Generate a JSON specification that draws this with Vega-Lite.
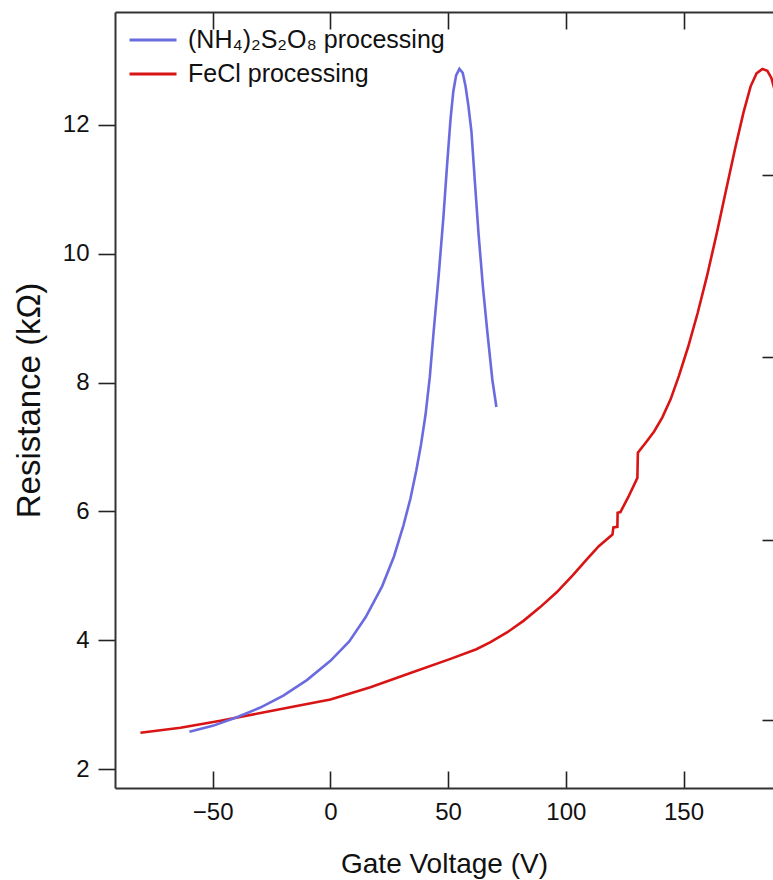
{
  "$schema": "https://vega.github.io/schema/vega-lite/v6.json",
  "width": 658,
  "height": 776,
  "autosize": {"type": "none"},
  "padding": {"left": 115, "top": 12, "right": 0, "bottom": 92},
  "background": "white",
  "config": {
    "view": {"stroke": null},
    "font": "Liberation Sans",
    "axis": {
      "grid": false,
      "domainColor": "#333333",
      "domainWidth": 2,
      "tickColor": "#222222",
      "tickWidth": 1.6,
      "labelColor": "#111111",
      "labelFont": "Liberation Sans",
      "labelFontSize": 24,
      "titleFont": "Liberation Sans",
      "titleFontSize": 28,
      "titleFontWeight": "normal",
      "titleColor": "#111111"
    }
  },
  "data": {
    "values": [
      {"series": "FeCl processing", "V": -80.7, "R": 2.563},
      {"series": "FeCl processing", "V": -63.7, "R": 2.64},
      {"series": "FeCl processing", "V": -46.7, "R": 2.75},
      {"series": "FeCl processing", "V": -29.7, "R": 2.87},
      {"series": "FeCl processing", "V": -12.7, "R": 2.99},
      {"series": "FeCl processing", "V": 0, "R": 3.08},
      {"series": "FeCl processing", "V": 17, "R": 3.27},
      {"series": "FeCl processing", "V": 34, "R": 3.49},
      {"series": "FeCl processing", "V": 51, "R": 3.71},
      {"series": "FeCl processing", "V": 62, "R": 3.86},
      {"series": "FeCl processing", "V": 68, "R": 3.97},
      {"series": "FeCl processing", "V": 75, "R": 4.12},
      {"series": "FeCl processing", "V": 82, "R": 4.3},
      {"series": "FeCl processing", "V": 89, "R": 4.51},
      {"series": "FeCl processing", "V": 96, "R": 4.74},
      {"series": "FeCl processing", "V": 103, "R": 5.01},
      {"series": "FeCl processing", "V": 109, "R": 5.26},
      {"series": "FeCl processing", "V": 114, "R": 5.46},
      {"series": "FeCl processing", "V": 119.8, "R": 5.64},
      {"series": "FeCl processing", "V": 120.2, "R": 5.75},
      {"series": "FeCl processing", "V": 121.9, "R": 5.76},
      {"series": "FeCl processing", "V": 122.0, "R": 5.98},
      {"series": "FeCl processing", "V": 123.2, "R": 5.99},
      {"series": "FeCl processing", "V": 126.5, "R": 6.22},
      {"series": "FeCl processing", "V": 130.4, "R": 6.52},
      {"series": "FeCl processing", "V": 130.6, "R": 6.91},
      {"series": "FeCl processing", "V": 134, "R": 7.07},
      {"series": "FeCl processing", "V": 137.5, "R": 7.24},
      {"series": "FeCl processing", "V": 141, "R": 7.46},
      {"series": "FeCl processing", "V": 144.5, "R": 7.74},
      {"series": "FeCl processing", "V": 148, "R": 8.1},
      {"series": "FeCl processing", "V": 152, "R": 8.56},
      {"series": "FeCl processing", "V": 156, "R": 9.08},
      {"series": "FeCl processing", "V": 160, "R": 9.66},
      {"series": "FeCl processing", "V": 164, "R": 10.3},
      {"series": "FeCl processing", "V": 168, "R": 10.98},
      {"series": "FeCl processing", "V": 172, "R": 11.65},
      {"series": "FeCl processing", "V": 175.5, "R": 12.2},
      {"series": "FeCl processing", "V": 178.5, "R": 12.6},
      {"series": "FeCl processing", "V": 181, "R": 12.8},
      {"series": "FeCl processing", "V": 183.5, "R": 12.87},
      {"series": "FeCl processing", "V": 185.6, "R": 12.84},
      {"series": "FeCl processing", "V": 187.3, "R": 12.73},
      {"series": "FeCl processing", "V": 189.0, "R": 12.5},
      {"series": "(NH₄)₂S₂O₈ processing", "V": -59.9, "R": 2.58},
      {"series": "(NH₄)₂S₂O₈ processing", "V": -50, "R": 2.67},
      {"series": "(NH₄)₂S₂O₈ processing", "V": -40, "R": 2.8},
      {"series": "(NH₄)₂S₂O₈ processing", "V": -30, "R": 2.95},
      {"series": "(NH₄)₂S₂O₈ processing", "V": -20, "R": 3.14},
      {"series": "(NH₄)₂S₂O₈ processing", "V": -10, "R": 3.38},
      {"series": "(NH₄)₂S₂O₈ processing", "V": 0, "R": 3.68},
      {"series": "(NH₄)₂S₂O₈ processing", "V": 8, "R": 3.98},
      {"series": "(NH₄)₂S₂O₈ processing", "V": 15, "R": 4.36},
      {"series": "(NH₄)₂S₂O₈ processing", "V": 22, "R": 4.84},
      {"series": "(NH₄)₂S₂O₈ processing", "V": 27, "R": 5.3},
      {"series": "(NH₄)₂S₂O₈ processing", "V": 31, "R": 5.78},
      {"series": "(NH₄)₂S₂O₈ processing", "V": 34, "R": 6.2},
      {"series": "(NH₄)₂S₂O₈ processing", "V": 36.5, "R": 6.64},
      {"series": "(NH₄)₂S₂O₈ processing", "V": 38.5, "R": 7.04},
      {"series": "(NH₄)₂S₂O₈ processing", "V": 40.4, "R": 7.5},
      {"series": "(NH₄)₂S₂O₈ processing", "V": 42.2, "R": 8.08},
      {"series": "(NH₄)₂S₂O₈ processing", "V": 43.8, "R": 8.77},
      {"series": "(NH₄)₂S₂O₈ processing", "V": 46.0, "R": 9.67},
      {"series": "(NH₄)₂S₂O₈ processing", "V": 48.0, "R": 10.57},
      {"series": "(NH₄)₂S₂O₈ processing", "V": 49.6, "R": 11.4},
      {"series": "(NH₄)₂S₂O₈ processing", "V": 51.0, "R": 12.08},
      {"series": "(NH₄)₂S₂O₈ processing", "V": 52.2, "R": 12.52},
      {"series": "(NH₄)₂S₂O₈ processing", "V": 53.4, "R": 12.77},
      {"series": "(NH₄)₂S₂O₈ processing", "V": 54.8, "R": 12.87},
      {"series": "(NH₄)₂S₂O₈ processing", "V": 56.2, "R": 12.81},
      {"series": "(NH₄)₂S₂O₈ processing", "V": 57.4, "R": 12.6},
      {"series": "(NH₄)₂S₂O₈ processing", "V": 58.6, "R": 12.3},
      {"series": "(NH₄)₂S₂O₈ processing", "V": 59.9, "R": 11.9},
      {"series": "(NH₄)₂S₂O₈ processing", "V": 61.4, "R": 11.1},
      {"series": "(NH₄)₂S₂O₈ processing", "V": 62.9, "R": 10.32},
      {"series": "(NH₄)₂S₂O₈ processing", "V": 64.8, "R": 9.48},
      {"series": "(NH₄)₂S₂O₈ processing", "V": 66.7, "R": 8.77},
      {"series": "(NH₄)₂S₂O₈ processing", "V": 68.8, "R": 8.04},
      {"series": "(NH₄)₂S₂O₈ processing", "V": 70.5, "R": 7.62}
    ]
  },
  "layer": [
    {
      "mark": {"type": "line", "strokeWidth": 2.6, "clip": true},
      "encoding": {
        "x": {
          "field": "V", "type": "quantitative",
          "scale": {"domain": [-91.5, 188], "nice": false, "zero": false},
          "axis": {
            "orient": "bottom",
            "values": [-50, 0, 50, 100, 150],
            "tickSize": -17,
            "labelPadding": 29,
            "title": "Gate Voltage (V)",
            "titlePadding": 26
          }
        },
        "y": {
          "field": "R", "type": "quantitative",
          "scale": {"domain": [1.705, 13.754], "nice": false, "zero": false},
          "axis": {
            "orient": "left",
            "values": [2, 4, 6, 8, 10, 12],
            "tickSize": 17,
            "labelPadding": 9,
            "title": "Resistance (kΩ)",
            "titleFontSize": 33,
            "titlePadding": 16
          }
        },
        "color": {
          "field": "series", "type": "nominal",
          "scale": {
            "domain": ["(NH₄)₂S₂O₈ processing", "FeCl processing"],
            "range": ["#6B6BE0", "#D81414"]
          },
          "legend": {
            "title": null,
            "orient": "none",
            "legendX": 13,
            "legendY": 17,
            "symbolType": "stroke",
            "symbolSize": 2209,
            "symbolStrokeWidth": 3,
            "clipHeight": 22,
            "rowPadding": 9,
            "labelFontSize": 25,
            "labelFont": "Liberation Sans",
            "labelColor": "#111111",
            "labelOffset": 10,
            "labelLimit": 0,
            "padding": 0
          }
        }
      }
    },
    {
      "mark": {"type": "line", "opacity": 0, "clip": true},
      "encoding": {
        "x": {
          "field": "V", "type": "quantitative",
          "axis": {
            "orient": "top",
            "values": [-50, 0, 50, 100, 150],
            "tickSize": -17,
            "labels": false,
            "title": null
          }
        },
        "y": {
          "field": "R", "type": "quantitative",
          "axis": {
            "orient": "right",
            "values": [2.765, 5.559, 8.399, 11.224],
            "tickSize": -11,
            "domain": false,
            "labels": false,
            "title": null
          }
        },
        "color": {"field": "series", "type": "nominal"}
      }
    }
  ],
  "resolve": {"axis": {"x": "independent", "y": "independent"}}
}
